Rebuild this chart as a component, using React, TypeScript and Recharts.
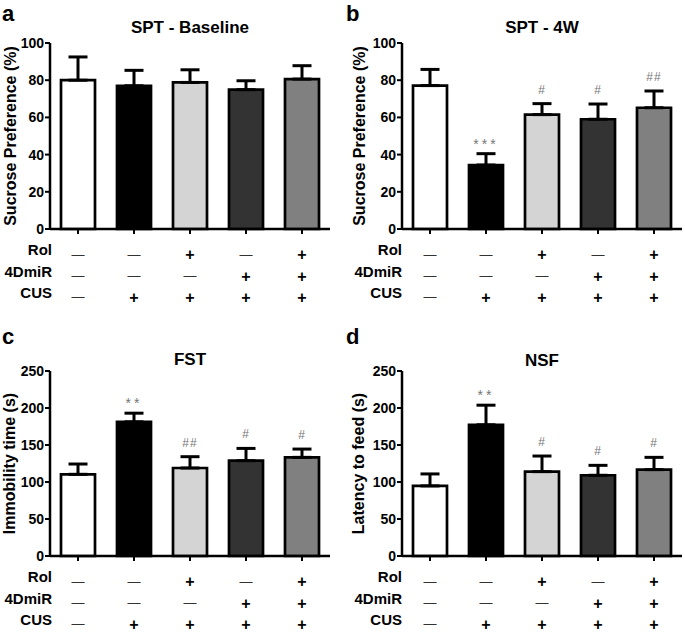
import { Bar, BarChart, Cell, ErrorBar, LabelList, XAxis, YAxis } from 'recharts';

const FONT = '"Liberation Sans", Arial, sans-serif';

// groups along the x axis, and the +/- table underneath
const groups = ['Control', 'CUS', 'CUS+Rol', 'CUS+4DmiR', 'CUS+Rol+4DmiR'];
const rolRow = ['—', '—', '+', '—', '+'];
const dmirRow = ['—', '—', '—', '+', '+'];
const cusRow = ['—', '+', '+', '+', '+'];
const rowLabels = ['Rol', '4DmiR', 'CUS'];

// a - SPT baseline
const sptBaseMean = [80, 77, 78.8, 74.9, 80.6];
const sptBaseSem = [12.5, 8.3, 6.8, 4.8, 7.2];
const sptBaseSig = ['', '', '', '', ''];

// b - SPT 4W
const spt4wMean = [77.1, 34.4, 61.5, 59, 65.2];
const spt4wSem = [8.7, 6.1, 5.9, 8.2, 9];
const spt4wSig = ['', '***', '#', '#', '##'];

// c - FST
const fstMean = [110.4, 181.3, 118.9, 128.8, 133.3];
const fstSem = [13.9, 11.7, 15.3, 16.6, 11.2];
const fstSig = ['', '**', '##', '#', '#'];

// d - NSF
const nsfMean = [94.7, 177.3, 114, 109.1, 116.7];
const nsfSem = [16.2, 26.5, 21.1, 13.4, 16.6];
const nsfSig = ['', '**', '#', '#', '#'];

const pctTicks = [0, 20, 40, 60, 80, 100];
const secTicks = [0, 50, 100, 150, 200, 250];

const fills = ['#ffffff', '#000000', '#d4d4d4', '#333333', '#808080'];

// row centres below the x axis line
const rowOffsets = [21, 42.5, 63.5];

function GroupTick(props: any) {
  const { x, y, payload } = props;
  const i = groups.indexOf(payload.value);
  const cells = [rolRow[i], dmirRow[i], cusRow[i]];
  return (
    <g>
      {cells.map((s, r) => {
        const centre = y + rowOffsets[r];
        const isPlus = s === '+';
        return (
          <text
            key={r}
            x={x}
            y={isPlus ? centre + 5.2 : centre + 3.8}
            textAnchor="middle"
            fontFamily={FONT}
            fontSize={isPlus ? 16 : 13}
            fontWeight={isPlus ? 'bold' : 'normal'}
            fill={isPlus ? '#000' : '#333'}
          >
            {s}
          </text>
        );
      })}
    </g>
  );
}

function makeSigLabel(mean: number[], sem: number[]) {
  return (props: any) => {
    const vb = props.viewBox || {};
    const i = props.index;
    const value = props.value;
    if (!value || i === undefined) return null;
    const x = vb.x ?? props.x;
    const y = vb.y ?? props.y;
    const w = vb.width ?? props.width;
    const h = vb.height ?? props.height;
    const errPx = (sem[i] * h) / mean[i];
    const top = y - errPx;
    const star = String(value).includes('*');
    return (
      <text
        x={x + w / 2}
        y={star ? top - 5 : top - 10}
        textAnchor="middle"
        fontFamily={FONT}
        fontSize={star ? 14 : 12}
        letterSpacing={star ? 3 : 1}
        fill="#777"
      >
        {value}
      </text>
    );
  };
}

interface PanelProps {
  letter: string;
  title: string;
  yLabel: string;
  mean: number[];
  sem: number[];
  sig: string[];
  ticks: number[];
  left: number;
  top: number;
  width: number;
  yWidth: number;
  marginTop: number;
  marginRight: number;
  xHeight: number;
  yLabelX: number;
  rowLabelX: number;
  letterX: number;
  letterY: number;
  titleY: number;
}

function Panel(p: PanelProps) {
  const height = 316;
  const rows = groups.map((g, i) => ({
    group: g,
    mean: p.mean[i],
    err: [0, p.sem[i]],
    sig: p.sig[i],
  }));
  const plotTop = p.marginTop;
  const plotBottom = height - p.xHeight;
  const plotLeft = p.yWidth;
  const plotRight = p.width - p.marginRight;
  const domainMax = p.ticks[p.ticks.length - 1];

  return (
    <div style={{ position: 'absolute', left: p.left, top: p.top, width: p.width, height }}>
      <BarChart
        width={p.width}
        height={height}
        data={rows}
        margin={{ top: p.marginTop, right: p.marginRight, left: 0, bottom: 0 }}
      >
        <XAxis
          dataKey="group"
          height={p.xHeight}
          axisLine={{ stroke: '#000', strokeWidth: 2.5 }}
          tickLine={{ stroke: '#000', strokeWidth: 2 }}
          tickSize={5}
          tickMargin={0}
          interval={0}
          tick={<GroupTick />}
        />
        <YAxis
          width={p.yWidth}
          domain={[0, domainMax]}
          ticks={p.ticks}
          interval={0}
          axisLine={{ stroke: '#000', strokeWidth: 2.5 }}
          tickLine={{ stroke: '#000', strokeWidth: 2 }}
          tickSize={5}
          tickMargin={1}
          tick={{ fill: '#000', fontSize: 14, fontWeight: 'bold', fontFamily: FONT }}
        />
        <Bar dataKey="mean" barSize={34} stroke="#000" strokeWidth={2.7} isAnimationActive={false}>
          {rows.map((r, i) => (
            <Cell key={r.group} fill={fills[i]} />
          ))}
          <ErrorBar dataKey="err" width={9.5} stroke="#000" strokeWidth={3} direction="y" />
          <LabelList dataKey="sig" content={makeSigLabel(p.mean, p.sem)} />
        </Bar>
      </BarChart>
      <svg
        width={p.width}
        height={height}
        style={{ position: 'absolute', left: 0, top: 0, pointerEvents: 'none' }}
        fontFamily={FONT}
      >
        <text x={p.letterX} y={p.letterY} fontSize={22} fontWeight="bold">
          {p.letter}
        </text>
        <text x={(plotLeft + plotRight) / 2} y={p.titleY} textAnchor="middle" fontSize={17} fontWeight="bold">
          {p.title}
        </text>
        <text
          transform={`translate(${p.yLabelX},${(plotTop + plotBottom) / 2}) rotate(-90)`}
          textAnchor="middle"
          dominantBaseline="central"
          fontSize={16}
          fontWeight="bold"
        >
          {p.yLabel}
        </text>
        {rowLabels.map((l, r) => (
          <text
            key={l}
            x={p.rowLabelX}
            y={plotBottom + rowOffsets[r] + 5.4}
            textAnchor="end"
            fontSize={15}
            fontWeight="bold"
          >
            {l}
          </text>
        ))}
      </svg>
    </div>
  );
}

export default function App() {
  return (
    <div
      style={{
        position: 'absolute',
        left: 0,
        top: 0,
        width: 685,
        height: 632,
        background: '#fff',
        overflow: 'hidden',
        fontFamily: FONT,
      }}
    >
      <Panel
        letter="a"
        title="SPT - Baseline"
        yLabel="Sucrose Preference (%)"
        mean={sptBaseMean}
        sem={sptBaseSem}
        sig={sptBaseSig}
        ticks={pctTicks}
        left={0}
        top={0}
        width={340}
        yWidth={50}
        marginTop={43}
        marginRight={10}
        xHeight={87}
        yLabelX={10}
        rowLabelX={52}
        letterX={2}
        letterY={21}
        titleY={33}
      />
      <Panel
        letter="b"
        title="SPT - 4W"
        yLabel="Sucrose Preference (%)"
        mean={spt4wMean}
        sem={spt4wSem}
        sig={spt4wSig}
        ticks={pctTicks}
        left={340}
        top={0}
        width={345}
        yWidth={62}
        marginTop={43}
        marginRight={3}
        xHeight={87}
        yLabelX={19}
        rowLabelX={62}
        letterX={6}
        letterY={21}
        titleY={33}
      />
      <Panel
        letter="c"
        title="FST"
        yLabel="Immobility time (s)"
        mean={fstMean}
        sem={fstSem}
        sig={fstSig}
        ticks={secTicks}
        left={0}
        top={316}
        width={340}
        yWidth={50}
        marginTop={55}
        marginRight={10}
        xHeight={76}
        yLabelX={9}
        rowLabelX={52}
        letterX={2}
        letterY={28}
        titleY={49}
      />
      <Panel
        letter="d"
        title="NSF"
        yLabel="Latency to feed (s)"
        mean={nsfMean}
        sem={nsfSem}
        sig={nsfSig}
        ticks={secTicks}
        left={340}
        top={316}
        width={345}
        yWidth={62}
        marginTop={55}
        marginRight={3}
        xHeight={76}
        yLabelX={18}
        rowLabelX={62}
        letterX={6}
        letterY={28}
        titleY={50}
      />
    </div>
  );
}
